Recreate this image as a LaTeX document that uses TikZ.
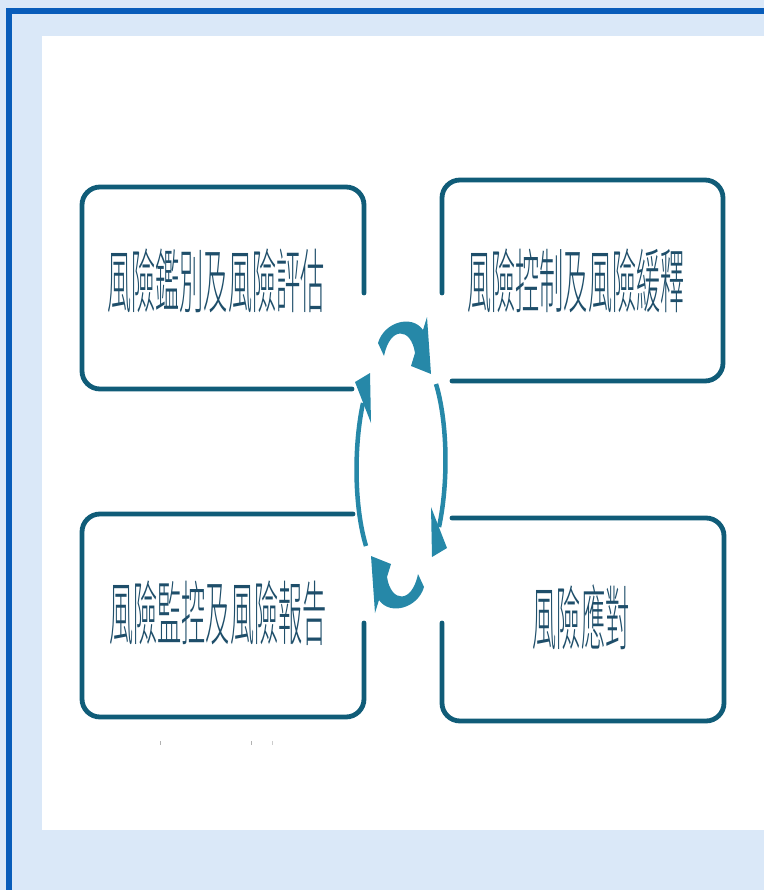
\documentclass[tikz,border=0pt]{standalone}
\usepackage{fontspec}
\newfontfamily\cjk[UprightFont={* Light}]{Noto Sans CJK TC}
\definecolor{bgblue}{RGB}{218,232,248}
\definecolor{frameblue}{RGB}{8,92,186}
\definecolor{boxcol}{RGB}{16,92,120}
\definecolor{arrowcol}{RGB}{38,136,168}
\definecolor{txtcol}{RGB}{30,78,106}
\begin{document}
\begin{tikzpicture}[x=1pt,y=-1pt,
  frameline/.style={draw=boxcol, line width=4.8pt, rounded corners=18pt, line cap=round},
  boxtext/.style={text=txtcol, font=\cjk\fontsize{70}{70}\selectfont, inner sep=0pt},
  thinarc/.style={draw=arrowcol, line width=4.5pt}]
\useasboundingbox (0,0) rectangle (764,890);
% background and frame
\fill[bgblue] (0,0) rectangle (764,890);
\fill[frameblue] (6,8) rectangle (12,890);
\fill[frameblue] (6,8) rectangle (764,14);
\fill[white] (42,36) rectangle (764,830);
% boxes
\draw[frameline] (364,293) -- (364,187) -- (82,187) -- (82,389) -- (352,389);
\draw[frameline] (442,293) -- (442,180) -- (723,180) -- (723,381) -- (452,381);
\draw[frameline] (353,514) -- (82,514) -- (82,717) -- (364,717) -- (364,623);
\draw[frameline] (452,518) -- (724,518) -- (724,721) -- (442,721) -- (442,623);
% texts
\node[boxtext] (t1) at (216,281) {\scalebox{0.345}[1]{風險鑑別及風險評估}};
\node[boxtext] (t2) at (576,281) {\scalebox{0.345}[1]{風險控制及風險緩釋}};
\node[boxtext] (t3) at (218,613) {\scalebox{0.345}[1]{風險監控及風險報告}};
\node[boxtext] (t4) at (581,617) {\scalebox{0.345}[1]{風險應對}};
% cycle arrows
\foreach \r in {0,180} {
  \begin{scope}[rotate around={\r:(401,465)}]
    \fill[arrowcol] (378,343) .. controls (384,322) and (412,314) .. (423,330)
      -- (427,317) -- (431,374) -- (411,366) -- (415,353)
      .. controls (411,327) and (390,326) .. (384,356) -- cycle;
    \draw[thinarc] (436,384) .. controls (447,420) and (449,480) .. (439,527);
    \fill[arrowcol] (431,507) -- (447,548) -- (432,557) -- cycle;
  \end{scope}
}
% small specks
\fill[gray!60] (159.5,741) rectangle (161,745);
\fill[gray!60] (250.5,741) rectangle (252,745);
\fill[gray!40] (271.5,741) rectangle (273,745);
\end{tikzpicture}
\end{document}
